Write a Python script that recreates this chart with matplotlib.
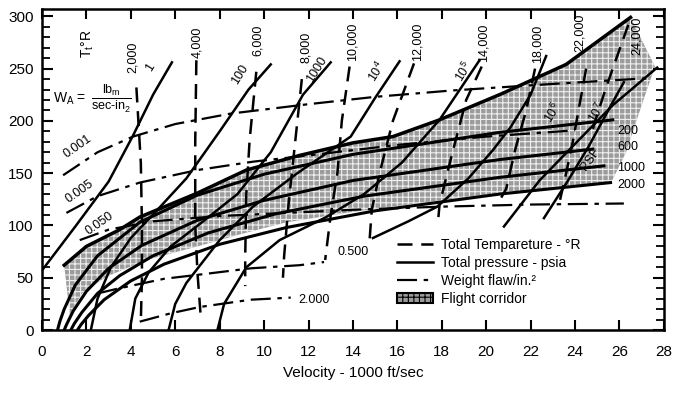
import numpy as np
import matplotlib
matplotlib.use('Agg')
import matplotlib.pyplot as plt
from matplotlib.lines import Line2D
from matplotlib.patches import Patch

plt.rcParams['font.family'] = ['Liberation Sans', 'DejaVu Sans']
plt.rcParams['mathtext.fontset'] = 'custom'
plt.rcParams['mathtext.rm'] = 'Liberation Sans'
plt.rcParams['mathtext.it'] = 'Liberation Sans'
plt.rcParams['hatch.linewidth'] = 0.8

# ---- flight corridor (shaded) ----
corr_top_x = [1.0, 2.0, 3.5, 4.4, 7.0, 9.2, 11.6, 14.0, 15.8, 17.9, 20.7, 23.6, 26.5]
corr_top_y = [62, 80, 96, 108, 131, 153, 167, 179, 185, 201, 226, 254, 299]
corr_right_x = [27.6, 27.0, 26.3, 25.6]
corr_right_y = [252, 215, 170, 140]
corr_bot_x = [25.6, 21.0, 17.9, 14.0, 11.0, 9.0, 7.0, 4.7, 2.9, 1.8, 1.25]
corr_bot_y = [140, 132, 124, 113, 103, 92, 80, 67, 51, 35, 15]

# ---- dynamic pressure lines (psf) ----
q_labels = ['200', '600', '1000', '2000']
q_x = [[0.7, 0.8, 1.0, 1.5, 2.5, 4.4, 7.0, 10, 14, 20.6, 25.7],
       [1.0, 1.1, 1.4, 2.0, 3.0, 4.5, 7.0, 10, 14, 20.6, 24.8],
       [1.3, 1.45, 1.8, 2.5, 3.5, 5.0, 7.5, 10.5, 14.5, 20.6, 25.3],
       [1.6, 1.75, 2.1, 2.8, 4.0, 5.5, 8.0, 11.0, 15.0, 20.6, 25.6]]
q_y = [[0, 8, 20, 43, 71, 103, 129, 149, 168, 189, 201],
       [0, 5, 18, 37, 59, 81, 105, 124, 143, 163, 173],
       [0, 6, 17, 35, 52, 71, 93, 111, 128, 146, 157],
       [0, 5, 14, 29, 47, 63, 82, 98, 114, 130, 141]]
q_label_y = [190, 175, 155, 139]

# ---- total pressure lines (psia) ----
p_labels = ['1', '100', '1000', '10$^4$', '10$^5$', '10$^6$', '10$^7$', '']
p_x = [[0, 1.5, 3.0, 4.1, 5.0, 5.85],
       [2.2, 2.5, 3.1, 4.0, 5.2, 6.5, 8.0, 9.3, 10.3],
       [3.95, 4.2, 4.8, 5.8, 7.2, 8.8, 10.3, 11.75, 13.0],
       [5.7, 6.0, 6.5, 8.0, 9.5, 11.5, 13.9, 15.0, 16.1],
       [7.9, 8.2, 9.2, 10.7, 12.8, 14.5, 16.2, 17.9, 19.7],
       [14.9, 16.5, 17.8, 19.2, 20.3, 21.1, 22.0, 22.7],
       [22.6, 23.6, 24.6, 25.7, 26.2],
       [20.8, 22.4, 24.0, 25.7, 27.7]]
p_y = [[57, 99, 142, 186, 225, 256],
       [0, 30, 60, 88, 115, 145, 190, 230, 254],
       [0, 30, 55, 80, 103, 130, 170, 225, 256],
       [0, 25, 45, 86, 118, 150, 185, 222, 257],
       [0, 25, 60, 86, 108, 130, 160, 201, 258],
       [88, 104, 118, 145, 172, 194, 225, 262],
       [107, 140, 175, 218, 237],
       [99, 143, 178, 215, 251]]
p_lab_x = [4.9, 8.9, 12.4, 15.1, 19.0, 23.0, 25.0]
p_lab_y = [251, 244, 249, 247, 247, 208, 208]

# ---- total temperature lines (deg R) ----
t_labels = ['2,000', '4,000', '6,000', '8,000', '10,000', '12,000',
            '14,000', '18,000', '22,000', '24,000']
t_x = [[4.25, 4.45, 4.5, 4.5, 4.45],
       [6.95, 6.9, 6.9, 7.0, 7.15],
       [9.65, 9.35, 9.2, 9.15, 9.15],
       [11.7, 11.4, 11.1, 10.9, 10.85],
       [13.85, 13.5, 13.3, 13.0, 12.75],
       [16.75, 15.8, 15.2, 14.85, 14.75],
       [19.8, 19.1, 18.4, 17.9, 17.85],
       [22.2, 21.8, 21.3, 20.9, 20.5],
       [24.5, 24.2, 23.9, 23.6, 23.3],
       [26.4, 25.9, 25.4, 25.0, 24.7]]
t_y = [[232, 160, 100, 50, 8],
       [258, 180, 100, 55, 12],
       [247, 182, 130, 70, 42],
       [240, 180, 120, 70, 50],
       [252, 200, 150, 110, 67],
       [255, 200, 150, 115, 86],
       [252, 220, 163, 120, 108],
       [250, 210, 172, 135, 120],
       [250, 215, 180, 150, 122],
       [292, 262, 232, 206, 185]]
t_lab_x = [4.1, 7.0, 9.7, 11.9, 14.0, 16.9, 19.9, 22.3, 24.2, 26.8]
t_lab_y = [261, 275, 277, 270, 276, 276, 275, 274, 284, 281]

# ---- weight flow lines (lbm/sec-in^2) ----
w_labels = ['0.001', '0.005', '0.050', '0.500', '2.000']
w_x = [[0.95, 2.5, 4.1, 6.0, 8.5, 12.0, 15.0, 18.4, 22.0, 25.0, 27.5],
       [1.1, 2.5, 4.4, 7.0, 9.5, 12.0, 16.0, 20.0, 24.0],
       [1.7, 3.0, 5.0, 8.0, 11.0, 14.0, 18.0, 22.0, 26.2],
       [2.5, 3.5, 5.5, 7.1, 9.4, 11.6, 12.7],
       [4.4, 5.8, 7.1, 9.4, 11.2]]
w_y = [[148, 170, 185, 197, 207, 216, 223, 229, 234, 238, 241],
       [112, 128, 141, 153, 161, 167, 177, 185, 191],
       [86, 96, 104, 109, 112, 115, 118, 120, 121],
       [35, 40, 49, 53, 59, 62, 65],
       [8, 16, 22, 29, 31]]
w_lab_x = [1.6, 1.7, 2.6, 14.0, 12.25]
w_lab_y = [175, 132, 102, 75, 29]
w_lab_rot = [35, 35, 35, 0, 0]

dash = (0, (6, 3.5))
dashdot = (0, (9, 3, 2, 3))
shade = '#9c9c9c'

fig = plt.figure(figsize=(6.73, 3.94), dpi=100)
ax = fig.add_axes([0.0624, 0.1624, 0.924, 0.8147])

cx = corr_top_x + corr_right_x + corr_bot_x
cy = corr_top_y + corr_right_y + corr_bot_y
ax.fill(cx, cy, facecolor=shade, edgecolor='none', zorder=1)
ax.fill(cx, cy, facecolor='none', edgecolor='#eeeeee', hatch='+++', linewidth=0, zorder=1.1)
ax.plot(corr_top_x, corr_top_y, color='k', lw=2.5, zorder=3)

for xs, ys in zip(q_x, q_y):
    ax.plot(xs, ys, color='k', lw=2.2, zorder=3)
for lab, yy in zip(q_labels, q_label_y):
    ax.text(25.9, yy, lab, fontsize=9, va='center', ha='left', zorder=5)
ax.text(24.7, 163, 'PSF', fontsize=9, rotation=55, ha='center', va='center', zorder=5)

for xs, ys in zip(p_x, p_y):
    ax.plot(xs, ys, color='k', lw=1.8, zorder=3)
for lab, xx, yy in zip(p_labels, p_lab_x, p_lab_y):
    ax.text(xx, yy, lab, fontsize=9, rotation=58, ha='center', va='center', zorder=5)

for xs, ys in zip(t_x, t_y):
    ax.plot(xs, ys, color='k', lw=1.8, linestyle=dash, zorder=3)
for lab, xx, yy in zip(t_labels, t_lab_x, t_lab_y):
    ax.text(xx, yy, lab, fontsize=9, rotation=90, ha='center', va='center', zorder=5)

for xs, ys in zip(w_x, w_y):
    ax.plot(xs, ys, color='k', lw=1.6, linestyle=dashdot, zorder=3)
for lab, xx, yy, r in zip(w_labels, w_lab_x, w_lab_y, w_lab_rot):
    ax.text(xx, yy, lab, fontsize=9, rotation=r, ha='center', va='center', zorder=5)

ax.text(2.05, 274, r'T$_\mathrm{t}$°R', fontsize=10, rotation=90, ha='center', va='center')
ax.text(1.25, 221, r'W$_\mathrm{A}$ =', fontsize=10, ha='center', va='center')
ax.text(3.15, 221, r'$\frac{\mathrm{lb_m}}{\mathrm{sec}\text{-}\mathrm{in_2}}$', fontsize=13,
        ha='center', va='center')

handles = [Line2D([], [], color='k', lw=1.8, linestyle=dash),
           Line2D([], [], color='k', lw=1.8),
           Line2D([], [], color='k', lw=1.6, linestyle=dashdot),
           Patch(facecolor=shade, edgecolor='k', hatch='+++', linewidth=1.5)]
labels = ['Total Tempareture - °R', 'Total pressure - psia', 'Weight flaw/in.²', 'Flight corridor']
ax.legend(handles, labels, loc='upper left', bbox_to_anchor=(0.555, 0.318), frameon=False,
          fontsize=10, handlelength=2.6, handletextpad=0.6, labelspacing=0.3, borderpad=0.2)

ax.set_xlim(0, 28)
ax.set_ylim(0, 307)
ax.set_xticks(np.arange(0, 29, 2))
ax.set_yticks(np.arange(0, 301, 50))
ax.set_yticks(np.arange(0, 301, 10), minor=True)
ax.tick_params(axis='x', which='major', direction='in', top=True, length=7, width=1.5, pad=11, labelsize=11)
ax.tick_params(axis='y', which='major', direction='in', right=True, length=8, width=1.5, pad=6, labelsize=11)
ax.tick_params(axis='y', which='minor', direction='in', right=True, length=6, width=1.3)
for s in ax.spines.values():
    s.set_linewidth(1.8)
ax.set_xlabel('Velocity - 1000 ft/sec', fontsize=11, labelpad=5)

fig.savefig('out.png', dpi=100)
